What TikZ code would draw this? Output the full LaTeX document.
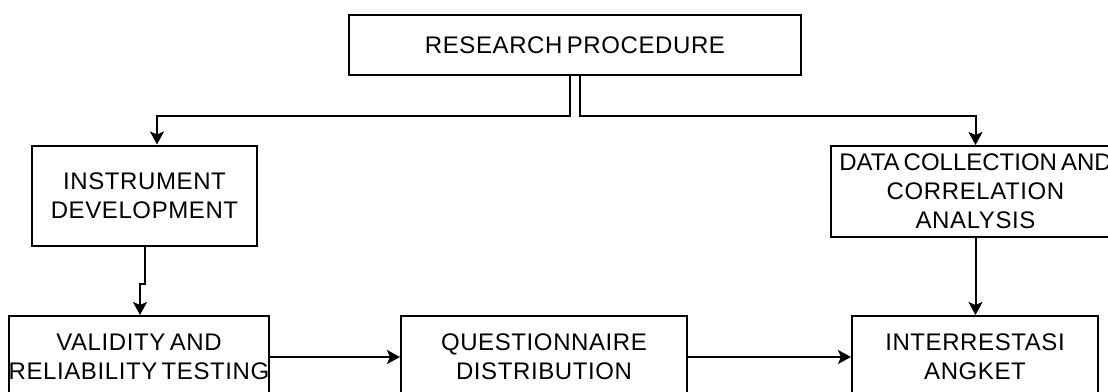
\documentclass[tikz,border=0pt]{standalone}
\usepackage{fontspec}
\setmainfont{Liberation Sans}[LetterSpace=2.5,WordSpace=0.6]
\usetikzlibrary{arrows.meta,calc}
\tikzset{
  box/.style={draw=black, line width=2pt, align=center, inner sep=0pt,
    font=\fontsize{24}{29}\selectfont, text=black},
  arr/.style={draw=black, line width=2pt, -{Stealth[length=13pt,width=14pt,inset=3pt]}},
  ln/.style={draw=black, line width=2pt}
}
\begin{document}
\begin{tikzpicture}[x=1pt,y=-1pt]
\useasboundingbox (0,0) rectangle (1108,391);
\clip (0,0) rectangle (1108,391);
\fill[white] (0,0) rectangle (1108,391);
\node[box, minimum width=452pt, minimum height=60pt] (top) at (575,45) {RESEARCH PROCEDURE};
\node[box, minimum width=225pt, minimum height=100pt] (inst) at (144.5,195.5) {INSTRUMENT\\DEVELOPMENT};
\node[box, minimum width=289pt, minimum height=91pt] (data) at (975.5,191.5) {{\addfontfeature{LetterSpace=0}DATA COLLECTION AND}\\CORRELATION\\ANALYSIS};
\node[box, minimum width=256pt, minimum height=82pt] (val) at (139,357) {VALIDITY AND\\RELIABILITY TESTING};
\node[box, minimum width=286pt, minimum height=82pt] (que) at (544,357) {QUESTIONNAIRE\\DISTRIBUTION};
\node[box, minimum width=246pt, minimum height=82pt] (int) at (975,357) {INTERRESTASI\\ANGKET};
\coordinate (a1) at (157,116);
\coordinate (a2) at (975.5,116);
\coordinate (j1) at (144.5,284);
\coordinate (j2) at (140,284);
\draw[arr] ([xshift=-5pt]top.south) |- (a1) -- (a1 |- inst.north);
\draw[arr] ([xshift=5pt]top.south) |- (a2) -- (data.north);
\draw[arr] (inst.south) -- (j1) -- (j2) -- (j2 |- val.north);
\draw[arr] (val.east) -- (que.west);
\draw[arr] (que.east) -- (int.west);
\draw[arr] (data.south) -- (data.south |- int.north);
\end{tikzpicture}
\end{document}
